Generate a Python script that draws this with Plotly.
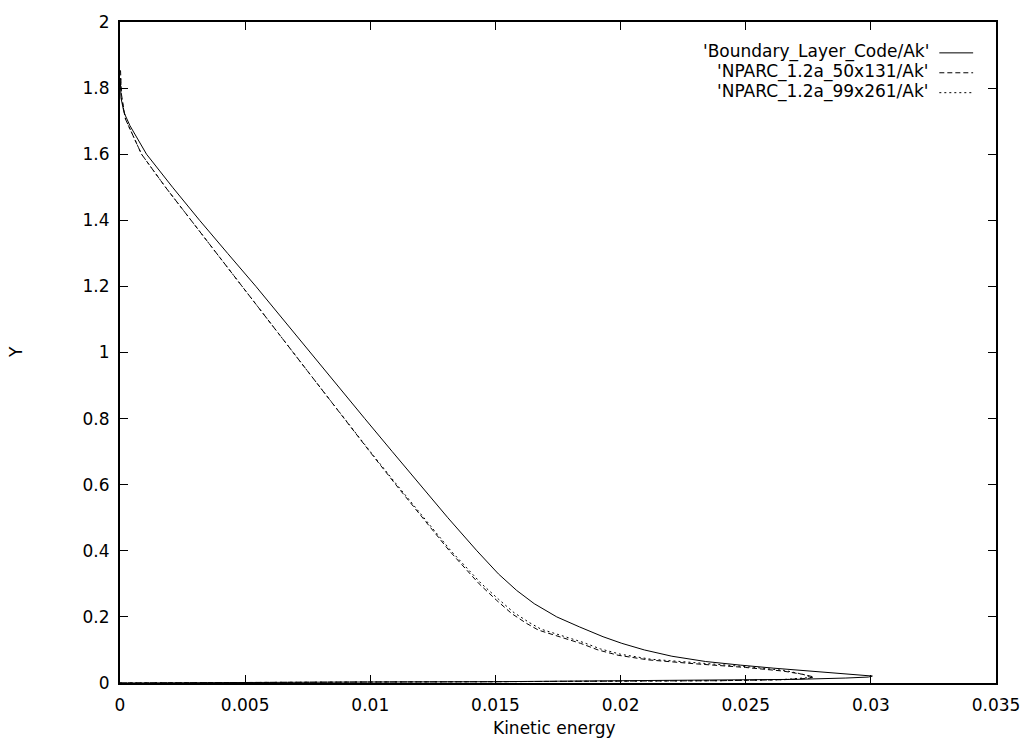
import plotly.graph_objects as go

# Boundary_Layer_Code/Ak  (solid) - wall branch then outer branch
bl_x = [0.0, 0.0020, 0.0050, 0.0100, 0.0150, 0.0200, 0.0240, 0.0270, 0.0290, 0.0299, 0.03006,
        0.02880, 0.02750, 0.02610, 0.02480, 0.02340, 0.02205, 0.02095, 0.02005, 0.01930,
        0.01835, 0.01745, 0.01655, 0.01585, 0.01512, 0.01426,
        0.01310, 0.01198, 0.01088, 0.00978, 0.00870, 0.00762, 0.00654, 0.00543, 0.00430,
        0.00318, 0.00210, 0.00106, 0.00040, 0.00016, 0.00004, 0.00001]
bl_y = [0.0, 0.001, 0.002, 0.003, 0.004, 0.006, 0.008, 0.011, 0.015, 0.018, 0.021,
        0.028, 0.036, 0.045, 0.054, 0.065, 0.081, 0.100, 0.120, 0.140,
        0.170, 0.200, 0.240, 0.280, 0.330, 0.400,
        0.500, 0.600, 0.700, 0.800, 0.900, 1.000, 1.100, 1.200, 1.300,
        1.400, 1.500, 1.600, 1.686, 1.726, 1.770, 1.830]

# NPARC_1.2a_50x131/Ak  (dashed)
n50_x = [0.0, 0.0020, 0.0050, 0.0100, 0.0150, 0.0200, 0.0240, 0.0265, 0.0275, 0.02773,
         0.02730, 0.02650, 0.02500, 0.02300, 0.02110, 0.01990, 0.01910, 0.01840, 0.01672,
         0.01625, 0.01565, 0.01505, 0.01435, 0.01316, 0.01208, 0.01102, 0.00998, 0.00895,
         0.00793, 0.00692, 0.00590, 0.00488, 0.00385, 0.00282, 0.00182, 0.00086, 0.00022,
         0.00006, 0.00002]
n50_y = [0.0, 0.001, 0.002, 0.003, 0.004, 0.005, 0.007, 0.010, 0.014, 0.018,
         0.026, 0.036, 0.047, 0.058, 0.070, 0.084, 0.100, 0.120, 0.160,
         0.180, 0.210, 0.250, 0.300, 0.400, 0.500, 0.600, 0.700, 0.800,
         0.900, 1.000, 1.100, 1.200, 1.300, 1.400, 1.500, 1.600, 1.706,
         1.780, 1.856]

# NPARC_1.2a_99x261/Ak  (dotted)
n99_x = [0.0, 0.0020, 0.0050, 0.0100, 0.0150, 0.0200, 0.0240, 0.0264, 0.0274, 0.02765,
         0.02725, 0.02655, 0.02510, 0.02310, 0.02120, 0.02000, 0.01920, 0.01850, 0.01682,
         0.01635, 0.01574, 0.01513, 0.01442, 0.01321, 0.01212, 0.01105, 0.01000, 0.00896,
         0.00794, 0.00692, 0.00590, 0.00488, 0.00385, 0.00282, 0.00182, 0.00086, 0.00022,
         0.00006, 0.00002]
n99_y = [0.0, 0.001, 0.002, 0.003, 0.004, 0.005, 0.007, 0.010, 0.014, 0.017,
         0.027, 0.038, 0.049, 0.060, 0.072, 0.087, 0.103, 0.123, 0.163,
         0.183, 0.213, 0.253, 0.302, 0.401, 0.501, 0.601, 0.700, 0.800,
         0.900, 1.000, 1.100, 1.200, 1.300, 1.400, 1.500, 1.600, 1.706,
         1.770, 1.840]

names = ["'Boundary_Layer_Code/Ak'", "'NPARC_1.2a_50x131/Ak'", "'NPARC_1.2a_99x261/Ak'"]
dashes = ["solid", "5px,3px", "2px,3px"]
series = [(bl_x, bl_y), (n50_x, n50_y), (n99_x, n99_y)]

x_ticks = [0, 0.005, 0.01, 0.015, 0.02, 0.025, 0.03, 0.035]
x_ticklabels = ["0", "0.005", "0.01", "0.015", "0.02", "0.025", "0.03", "0.035"]
y_ticks = [0, 0.2, 0.4, 0.6, 0.8, 1.0, 1.2, 1.4, 1.6, 1.8, 2.0]
y_ticklabels = ["0", "0.2", "0.4", "0.6", "0.8", "1", "1.2", "1.4", "1.6", "1.8", "2"]

FONT = "DejaVu Sans, Liberation Sans, Arial, sans-serif"
FS = 17

fig = go.Figure()
for (xs, ys), name, d in zip(series, names, dashes):
    fig.add_trace(go.Scatter(x=xs, y=ys, mode="lines", name=name, showlegend=False,
                             line=dict(color="black", width=1, dash=d)))

W, H = 1032, 742
ml, mr, mt, mb = 120, 31, 19, 59
pw, ph = W - ml - mr, H - mt - mb

def px2paper_x(px):
    return (px - ml) / pw

def px2paper_y(py):
    return (H - mb - py) / ph

annotations = []
shapes = []
legend_rows = [49, 69, 89]
for name, d, ry in zip(names, dashes, legend_rows):
    annotations.append(dict(xref="paper", yref="paper", x=px2paper_x(936), y=px2paper_y(ry),
                            xanchor="right", yanchor="middle", text=name, showarrow=False,
                            font=dict(family=FONT, size=FS, color="black")))
    shapes.append(dict(type="line", xref="paper", yref="paper",
                       x0=px2paper_x(944), x1=px2paper_x(978),
                       y0=px2paper_y(ry + 1), y1=px2paper_y(ry + 1),
                       line=dict(color="black", width=1, dash=d)))

annotations.append(dict(xref="paper", yref="paper", x=px2paper_x(556), y=px2paper_y(728),
                        xanchor="center", yanchor="middle", text="Kinetic energy", showarrow=False,
                        font=dict(family=FONT, size=FS, color="black")))
annotations.append(dict(xref="paper", yref="paper", x=px2paper_x(15), y=px2paper_y(351),
                        xanchor="center", yanchor="middle", text="Y", showarrow=False,
                        textangle=-90, font=dict(family=FONT, size=FS, color="black")))

axis_common = dict(ticks="inside", ticklen=8, tickwidth=1, tickcolor="black",
                   showline=True, linecolor="black", linewidth=2, mirror="allticks",
                   showgrid=False, zeroline=False,
                   tickfont=dict(family=FONT, size=FS, color="black"))

fig.update_layout(
    width=W, height=H,
    margin=dict(l=ml, r=mr, t=mt, b=mb),
    paper_bgcolor="white", plot_bgcolor="white",
    font=dict(family=FONT, size=FS, color="black"),
    annotations=annotations, shapes=shapes,
    xaxis=dict(range=[0, 0.035], tickvals=x_ticks, ticktext=x_ticklabels,
               ticklabelstandoff=6, **axis_common),
    yaxis=dict(range=[0, 2], tickvals=y_ticks, ticktext=y_ticklabels,
               ticklabelstandoff=5, **axis_common),
)

fig.write_html("out.html")
